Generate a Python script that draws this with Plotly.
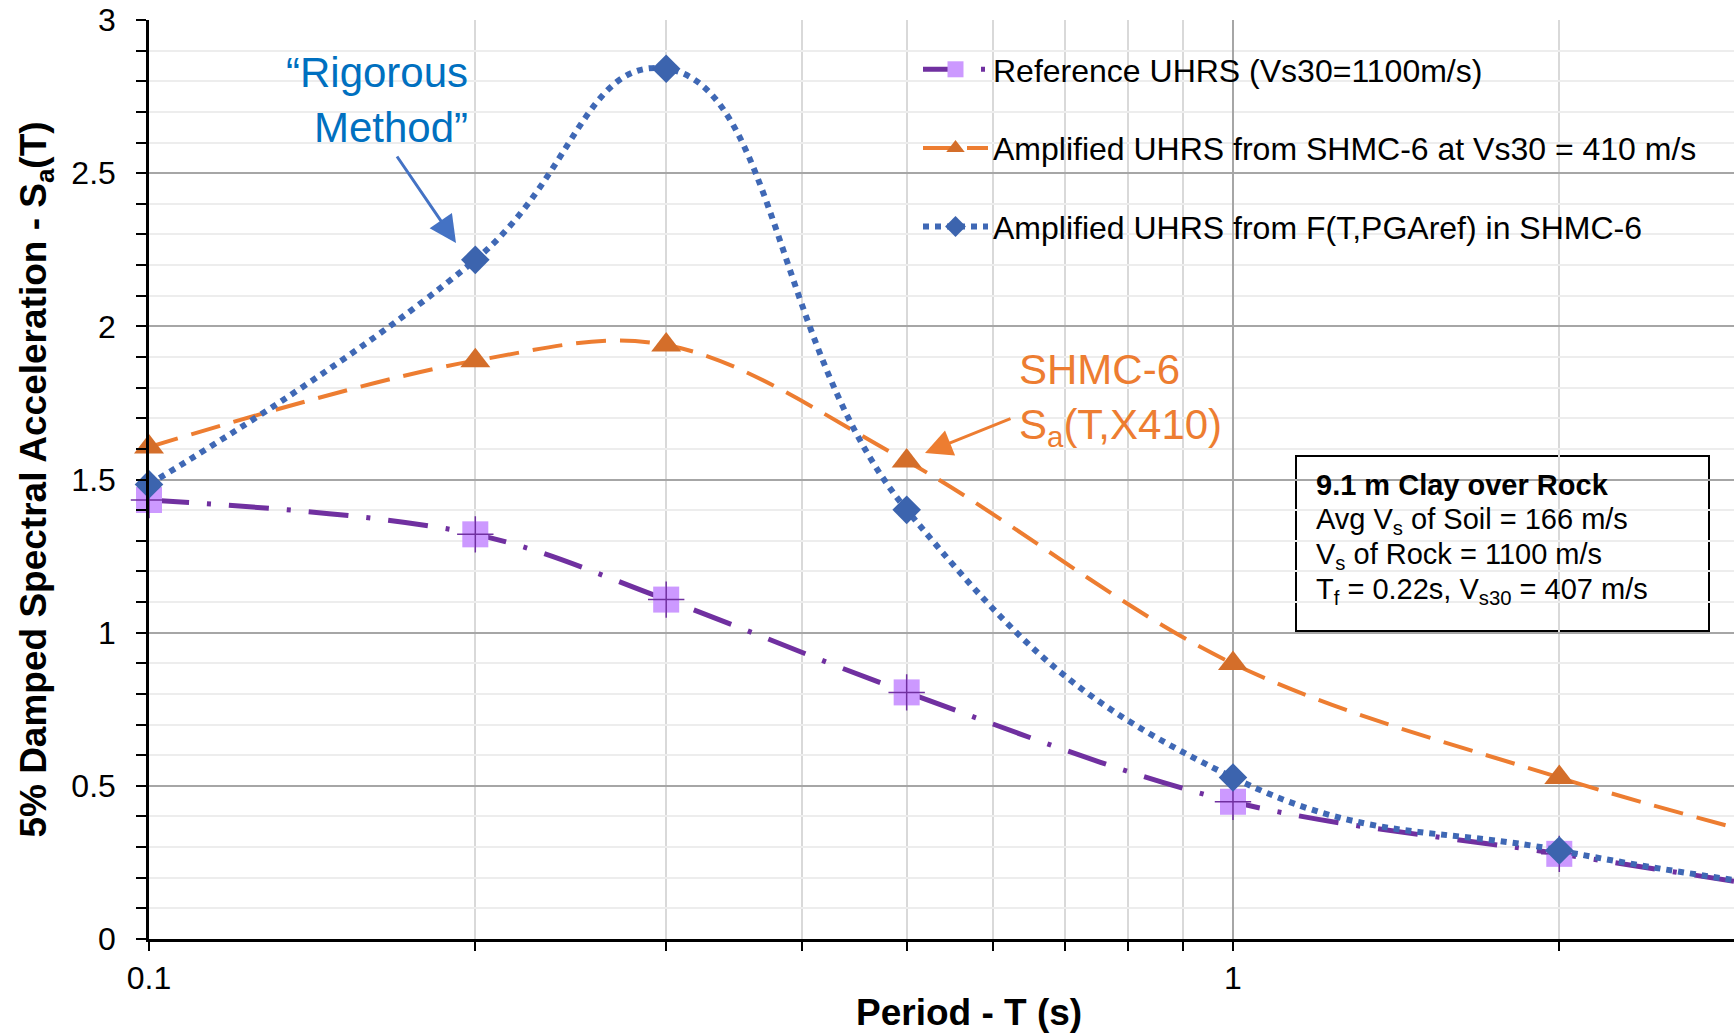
import plotly.graph_objects as go

# Periods (s) and spectral accelerations (g)
periods = [0.1, 0.2, 0.3, 0.5, 1.0, 2.0, 3.0]
sa_reference = [1.433, 1.321, 1.108, 0.805, 0.448, 0.278, 0.18]
sa_shmc6 = [1.606, 1.888, 1.939, 1.56, 0.899, 0.527, 0.35]
sa_fpga = [1.484, 2.217, 2.841, 1.401, 0.527, 0.289, 0.185]

series_names = [
    "Reference UHRS (Vs30=1100m/s)",
    "Amplified UHRS from SHMC-6 at Vs30 = 410 m/s",
    "Amplified UHRS from F(T,PGAref) in SHMC-6",
]

x_major_ticks = [0.1, 1]
x_minor_ticks = [0.2, 0.3, 0.4, 0.5, 0.6, 0.7, 0.8, 0.9, 2, 3]

site_lines = [
    "<b>9.1 m Clay over Rock</b>",
    "Avg V<sub>s</sub> of Soil = 166 m/s",
    "V<sub>s</sub> of Rock = 1100 m/s",
    "T<sub>f</sub> = 0.22s, V<sub>s30</sub> = 407 m/s",
]

FONT = "Arial, Liberation Sans, sans-serif"
PURPLE = "#7030A0"
LILAC = "#CC99FF"
ORANGE = "#ED7D31"
ORANGE_MK = "#D46E2A"
BLUE = "#3F68B5"
BLUE_MK = "#3C64AE"

fig = go.Figure()

fig.add_trace(go.Scatter(
    x=periods, y=sa_reference, name=series_names[0], legendgroup="a",
    mode="lines+markers", line=dict(color=PURPLE, width=5, shape="spline",
                                    dash="40px,18px,4px,18px"),
    marker=dict(symbol="square", size=26, color=LILAC, line=dict(width=0)),
    cliponaxis=False,
))
fig.add_trace(go.Scatter(
    x=periods, y=sa_reference, showlegend=False, legendgroup="a",
    mode="markers", hoverinfo="skip",
    marker=dict(symbol="cross-thin", size=26, line=dict(color=PURPLE, width=1.5)),
    cliponaxis=False,
))
fig.add_trace(go.Scatter(
    x=periods, y=sa_shmc6, name=series_names[1], legendgroup="b",
    mode="lines+markers", line=dict(color=ORANGE, width=4, shape="spline",
                                    dash="30px,14px"),
    marker=dict(symbol="triangle-up", size=26, color=ORANGE_MK),
    cliponaxis=False,
))
fig.add_trace(go.Scatter(
    x=periods, y=sa_fpga, name=series_names[2], legendgroup="c",
    mode="lines+markers", line=dict(color=BLUE, width=6, shape="spline",
                                    smoothing=1.3, dash="6px,6px"),
    marker=dict(symbol="diamond", size=22, color=BLUE_MK),
    cliponaxis=False,
))

# plot area in pixels
L, R, T, B = 149, 1734, 20, 939
PW, PH = R - L, B - T


def px(x):
    return (x - L) / PW


def py(y):
    return (B - y) / PH


shapes = [
    # white panel behind the legend
    dict(type="rect", xref="paper", yref="paper", x0=px(874), x1=1.0,
         y0=py(265), y1=py(24), fillcolor="white", line=dict(width=0),
         layer="between"),
    # site description box
    dict(type="rect", xref="paper", yref="paper", x0=px(1296), x1=px(1709),
         y0=py(631), y1=py(456), fillcolor="white",
         line=dict(color="black", width=2), layer="between"),
]

annotations = [
    dict(xref="paper", yref="paper", x=px(470), y=py(100), xanchor="right",
         yanchor="middle", align="right", showarrow=False,
         text="“Rigorous<br>Method”", font=dict(family=FONT, size=42, color="#0070C0")),
    dict(xref="paper", yref="paper", x=px(456), y=py(243), text="",
         showarrow=True, ax=-60, ay=-88, axref="pixel", ayref="pixel",
         arrowhead=2, arrowsize=1.8, arrowwidth=3, arrowcolor="#4472C4"),
    dict(xref="paper", yref="paper", x=px(1017), y=py(399), xanchor="left",
         yanchor="middle", align="left", showarrow=False,
         text="SHMC-6<br>S<sub>a</sub>(T,X410)",
         font=dict(family=FONT, size=42, color=ORANGE)),
    dict(xref="paper", yref="paper", x=px(925), y=py(453), text="",
         showarrow=True, ax=87, ay=-35, axref="pixel", ayref="pixel",
         arrowhead=2, arrowsize=1.8, arrowwidth=3, arrowcolor=ORANGE),
    dict(xref="paper", yref="paper", x=px(969), y=py(1013), xanchor="center",
         yanchor="middle", showarrow=False, text="<b>Period - T (s)</b>",
         font=dict(family=FONT, size=37, color="black")),
]

for line_text, y_mid in zip(site_lines, [485, 521, 556, 591]):
    annotations.append(dict(
        xref="paper", yref="paper", x=px(1314), y=py(y_mid), xanchor="left",
        yanchor="middle", align="left", showarrow=False, text=line_text,
        font=dict(family=FONT, size=29, color="black")))

fig.update_layout(
    width=1734, height=1035,
    margin=dict(l=L, r=0, t=T, b=1035 - B, autoexpand=False),
    plot_bgcolor="white", paper_bgcolor="white",
    font=dict(family=FONT, size=32, color="black"),
    showlegend=True,
    legend=dict(x=px(918), y=py(42), xanchor="left", yanchor="top",
                bgcolor="rgba(0,0,0,0)", font=dict(family=FONT, size=32),
                itemwidth=65, tracegroupgap=34),
    shapes=shapes,
    annotations=annotations,
)

fig.update_xaxes(
    type="log", range=[-1, 0.4622], tickvals=x_major_ticks, ticktext=["0.1", "1"],
    showgrid=True, gridcolor="#A6A6A6", gridwidth=1.5,
    ticks="outside", ticklen=9, tickwidth=2, tickcolor="black",
    showline=True, linecolor="black", linewidth=2.5,
    ticklabelstandoff=0, tickfont=dict(size=32),
    minor=dict(tickvals=x_minor_ticks, showgrid=True, gridcolor="#D9D9D9",
               gridwidth=1.5, ticks="outside", ticklen=9, tickwidth=2,
               tickcolor="black"),
    zeroline=False, automargin=False,
)
fig.update_yaxes(
    range=[0, 3], dtick=0.5, tickformat="~g",
    showgrid=True, gridcolor="#A6A6A6", gridwidth=1.5,
    ticks="outside", ticklen=10, tickwidth=2, tickcolor="black",
    showline=True, linecolor="black", linewidth=2.5,
    ticklabelstandoff=14, tickfont=dict(size=32),
    minor=dict(dtick=0.1, showgrid=True, gridcolor="#EDEDED", gridwidth=1.5,
               ticks="outside", ticklen=10, tickwidth=2, tickcolor="black"),
    title=dict(text="<b>5% Damped Spectral Acceleration - S<sub>a</sub>(T)</b>",
               font=dict(family=FONT, size=37), standoff=14),
    zeroline=False, automargin=False,
)

fig.write_html("out.html")
